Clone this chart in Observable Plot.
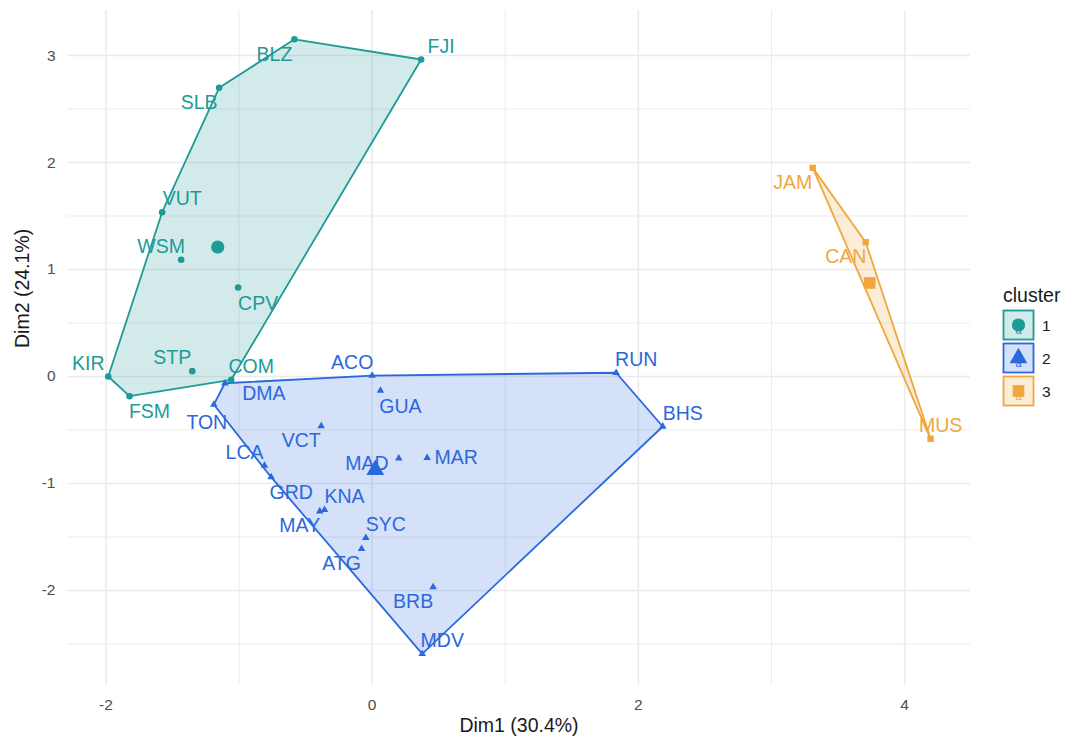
<!DOCTYPE html>
<html><head><meta charset="utf-8">
<script src="https://cdn.jsdelivr.net/npm/d3@7"></script>
<script src="https://cdn.jsdelivr.net/npm/@observablehq/plot@0.6"></script>
<style>
body{margin:0;background:#fff;font-family:"Liberation Sans",Arial,sans-serif;}
#wrap{position:relative;width:1067px;height:740px;}
#legend{position:absolute;left:1000px;top:280px;}
</style></head><body><div id="wrap"></div>
<script>
// ---- data ----
const labels = ["BLZ","FJI","SLB","VUT","WSM","CPV","STP","KIR","FSM","COM",
  "ACO","RUN","BHS","MDV","BRB","GUA","DMA","TON","VCT","LCA","GRD","MAD","MAR","KNA","MAY","SYC","ATG",
  "JAM","CAN","MUS"];
const dim1 = [-0.584,0.368,-1.150,-1.578,-1.435,-1.007,-1.352,-1.983,-1.823,-1.059,
  0.000,1.833,2.183,0.376,0.458,0.062,-1.107,-1.190,-0.383,-0.809,-0.759,0.200,0.413,-0.358,-0.394,-0.048,-0.080,
  3.310,3.708,4.195];
const dim2 = [3.152,2.963,2.698,1.536,1.091,0.832,0.050,0.000,-0.184,-0.031,
  0.009,0.035,-0.467,-2.592,-1.969,-0.131,-0.063,-0.262,-0.464,-0.832,-0.941,-0.764,-0.760,-1.246,-1.259,-1.507,-1.610,
  1.950,1.255,-0.582];
const cluster = [1,1,1,1,1,1,1,1,1,1,
  2,2,2,2,2,2,2,2,2,2,2,2,2,2,2,2,2,
  3,3,3];
const labelDir = ["sw","ne","sw","ne","nw","se","nw","nw","se","ne",
  "nw","ne","ne","ne","sw","se","ese","s","sw","nw","se","w","e","ne","sw","ne","sw",
  "sw","sw","n"];
const clusterNames = ["1","2","3"];
const clusterColors = ["#1E9A97","#2B68DE","#EFA73E"];
const clusterSymbols = ["circle","triangle","square"];
const xTicks = [-2,0,2,4];
const xMinor = [-1,1,3];
const yTicks = [-2,-1,0,1,2,3];
const yMinor = [-2.5,-1.5,-0.5,0.5,1.5,2.5];
const xTitle = "Dim1 (30.4%)";
const yTitle = "Dim2 (24.1%)";
const legendTitle = "cluster";

// ---- build ----
const rows = labels.map((n,i)=>({name:n, x:dim1[i], y:dim2[i], cluster:String(cluster[i]), dir:labelDir[i]}));
const centroids = d3.groups(rows, d=>d.cluster).map(([c,g])=>({cluster:c, x:d3.mean(g,d=>d.x), y:d3.mean(g,d=>d.y)}));
const OFF = {ne:[20,-13], nw:[-20,-13], se:[20,16], sw:[-20,15], e:[29,0], w:[-32,5], s:[-7,18], ese:[39,10], n:[10,-13]};
const FONT = "'Liberation Sans', Arial, sans-serif";

let hullMarks;
if (typeof Plot.hull === "function") {
  hullMarks = [Plot.hull(rows, {x:"x", y:"y", z:"cluster", fill:"cluster", fillOpacity:0.2, stroke:"cluster", strokeWidth:1.8})];
} else {
  const hp = [];
  for (const [c,g] of d3.groups(rows, d=>d.cluster)) {
    const h = d3.polygonHull(g.map(d=>[d.x,d.y]));
    h.push(h[0]);
    h.forEach(p=>hp.push({cluster:c, x:p[0], y:p[1]}));
  }
  hullMarks = [Plot.line(hp, {x:"x", y:"y", z:"cluster", fill:"cluster", fillOpacity:0.2, stroke:"cluster", strokeWidth:1.8})];
}

const textMarks = Object.entries(OFF).map(([k,[dx,dy]]) =>
  Plot.text(rows.filter(d=>d.dir===k), {x:"x", y:"y", text:"name", fill:"cluster", dx, dy,
    fontSize:19.5, textAnchor:"middle", lineAnchor:"middle"}));

const chart = Plot.plot({
  width:1067, height:740,
  marginLeft:67, marginRight:97, marginTop:10, marginBottom:55,
  style:{fontFamily:FONT, background:"white", color:"#4d4d4d", overflow:"visible"},
  x:{domain:[-2.289,4.495]},
  y:{domain:[-2.888,3.421]},
  color:{domain:clusterNames, range:clusterColors},
  symbol:{domain:clusterNames, range:clusterSymbols},
  marks:[
    Plot.ruleX(xMinor, {stroke:"#ebebeb", strokeWidth:1}),
    Plot.ruleY(yMinor, {stroke:"#ebebeb", strokeWidth:1}),
    Plot.ruleX(xTicks, {stroke:"#ebebeb", strokeWidth:1.6}),
    Plot.ruleY(yTicks, {stroke:"#ebebeb", strokeWidth:1.6}),
    Plot.axisX({ticks:xTicks, tickSize:0, tickPadding:13, tickFormat:d=>String(d), label:null, fontSize:15.5, fill:"#4d4d4d"}),
    Plot.axisY({ticks:yTicks, tickSize:0, tickPadding:12, tickFormat:d=>String(d), label:null, fontSize:15.5, fill:"#4d4d4d"}),
    ...hullMarks,
    Plot.dot(rows.filter(d=>d.cluster==="1"), {x:"x", y:"y", fill:"cluster", symbol:"cluster", r:3.3}),
    Plot.dot(rows.filter(d=>d.cluster==="2"), {x:"x", y:"y", fill:"cluster", symbol:"cluster", r:2.8}),
    Plot.dot(rows.filter(d=>d.cluster==="3"), {x:"x", y:"y", fill:"cluster", symbol:"cluster", r:3.6}),
    Plot.dot(centroids, {x:"x", y:"y", fill:"cluster", symbol:"cluster", r:6.6}),
    ...textMarks,
    Plot.text([xTitle], {frameAnchor:"bottom", text:d=>d, dy:40, fontSize:19.5, fill:"#1a1a1a", lineAnchor:"middle"}),
    Plot.text([yTitle], {frameAnchor:"left", text:d=>d, dx:-44.5, rotate:-90, fontSize:19.5, fill:"#1a1a1a", lineAnchor:"middle"})
  ]
});
document.getElementById("wrap").appendChild(chart);

// ---- legend ----
const lg = d3.select("#wrap").append("svg").attr("id","legend").attr("width",67).attr("height",140)
  .style("font-family", FONT);
lg.append("text").attr("x",3).attr("y",22).attr("font-size",19.5).attr("fill","#1a1a1a").text(legendTitle);
clusterNames.forEach((c,i)=>{
  const y0 = 30 + i*33, col = clusterColors[i];
  const g = lg.append("g");
  g.append("rect").attr("x",3.5).attr("y",y0+0.5).attr("width",30).attr("height",29)
    .attr("fill",col).attr("fill-opacity",0.2).attr("stroke",col).attr("stroke-width",1.8);
  g.append("text").attr("x",18.5).attr("y",y0+24).attr("text-anchor","middle").attr("font-size",11).attr("fill",col).text("a");
  const sym = [d3.symbolCircle, d3.symbolTriangle, d3.symbolSquare][i];
  g.append("path").attr("d", d3.symbol(sym, 6.6*6.6*Math.PI)()).attr("transform",`translate(18.5,${y0+15})`).attr("fill",col);
  lg.append("text").attr("x",42).attr("y",y0+20.5).attr("font-size",15.5).attr("fill","#1a1a1a").text(c);
});
</script></body></html>
